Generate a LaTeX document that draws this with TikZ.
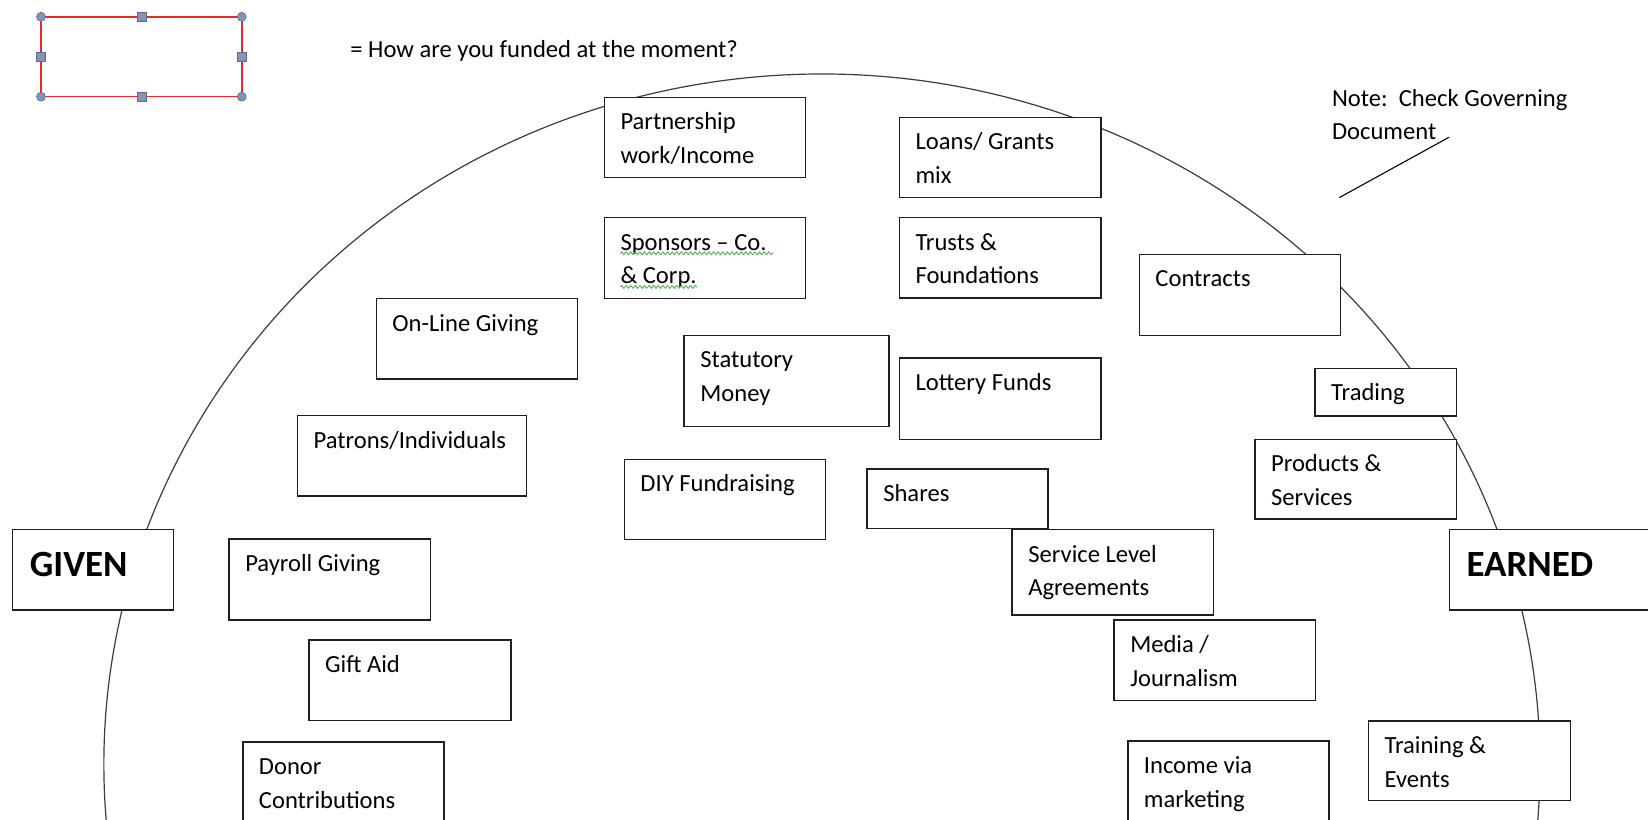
\documentclass[tikz,border=0pt]{standalone}
\usepackage{fontspec}
\setmainfont{Carlito}
\usetikzlibrary{decorations.pathmorphing}
\definecolor{selred}{RGB}{232,40,44}
\definecolor{handlefill}{RGB}{128,150,182}
\definecolor{handledraw}{RGB}{88,108,140}
\definecolor{squiggle}{RGB}{80,180,80}
\definecolor{boxline}{RGB}{30,30,30}
\definecolor{arcline}{RGB}{60,60,60}
\newcommand\pxu{0.52551pt}
\newcommand\tl[1]{\begin{tabular}[t]{@{}l@{}}#1\end{tabular}}
\newcommand\mybox[6]{%
  \node[box, minimum width={(#4-#2)*\pxu}, minimum height={(#5-#3)*\pxu}] (#1) at (#2,#3) {};
  \node[lbl] (#1t) at ([xshift=15*\pxu, yshift=-31*\pxu]#1.north west) {\tl{#6}};
}
\begin{document}
\begin{tikzpicture}[x=0.52551pt, y=-0.52551pt,
  box/.style={draw=boxline, line width=0.75pt, fill=white, anchor=north west, inner sep=0pt, outer sep=0pt},
  lbl/.style={anchor=base west, inner sep=0pt, font=\fontsize{12.3}{16.8}\selectfont},
  bigl/.style={anchor=base west, inner sep=0pt, font=\fontsize{18.5}{22}\selectfont\bfseries},
  roundhandle/.style={circle, fill=handlefill, draw=handledraw, line width=0.3pt, minimum size=8.5*\pxu, inner sep=0pt},
  squarehandle/.style={rectangle, fill=handlefill, draw=handledraw, line width=0.3pt, minimum size=8.5*\pxu, inner sep=0pt},
  wavy/.style={draw=squiggle, line width=0.45pt, decorate, decoration={snake, amplitude=0.7pt, segment length=2.3pt}}]
\useasboundingbox[fill=white] (0,0) rectangle (1568,780.2);
\begin{scope}
\clip (0,0) rectangle (1568,780.2);

% selection-frame legend
\node[draw=selred, line width=0.8pt, anchor=north west, inner sep=0pt, outer sep=0pt,
      minimum width=191*\pxu, minimum height=76*\pxu] (sel) at (39,16) {};
\foreach \a in {north west, north east, south west, south east}
  \node[roundhandle] at (sel.\a) {};
\foreach \a in {north, south, west, east}
  \node[squarehandle] at (sel.\a) {};
\node[lbl] (question) at (333,55) {= How are you funded at the moment?};

% big arc
\draw[arcline, line width=0.6pt] (782.1,727.9) ++(172:683.2 and 657.5)
  arc[start angle=172, end angle=368, x radius=683.2, y radius=657.5];

% note
\node[lbl] (note) at (1267,101) {\tl{Note:\ \ Check Governing\\Document}};
\coordinate (n1) at (1274.3,188);
\coordinate (n2) at (1378.7,130.6);
\draw[black, line width=0.55pt] (n1) -- (n2);

% boxes
\mybox{partner}{575}{92.6}{766.6}{169}{Partnership\\work/Income}
\mybox{loans}{855.7}{111.6}{1047.6}{188}{Loans/ Grants\\mix}
\mybox{sponsors}{575}{207}{766.6}{284}{Sponsors -- Co.\\\& Corp.}
\mybox{trusts}{855.7}{207}{1047.6}{283.6}{Trusts \&\\Foundations}
\mybox{contracts}{1084}{242}{1275.6}{319}{Contracts}
\mybox{online}{358}{284}{549.5}{360.5}{On-Line Giving}
\mybox{statutory}{651}{319}{846}{406}{Statutory\\Money}
\mybox{lottery}{855.7}{340.7}{1047.6}{418}{Lottery Funds}
\mybox{trading}{1251.2}{350.4}{1386}{395.8}{Trading}
\mybox{patrons}{283}{395.5}{500.8}{472}{Patrons/Individuals}
\mybox{diy}{594}{437}{785.5}{513.5}{DIY Fundraising}
\mybox{products}{1194}{418}{1386}{494}{Products \&\\Services}
\mybox{shares}{825}{446}{997}{503}{Shares}
\mybox{payroll}{218}{513}{409.5}{590}{Payroll Giving}
\mybox{sla}{963}{504}{1154.5}{585}{Service Level\\Agreements}
\mybox{media}{1060}{590}{1251.5}{666.5}{Media /\\Journalism}
\mybox{giftaid}{294}{609}{486}{685.5}{Gift Aid}
\mybox{training}{1302}{686}{1494.4}{761.8}{Training \&\\Events}
\mybox{donor}{231}{706}{422.5}{800}{Donor\\Contributions}
\mybox{income}{1073}{705}{1264.5}{800}{Income via\\marketing}

% GIVEN / EARNED
\node[box, minimum width=153*\pxu, minimum height=76.4*\pxu] (given) at (12,504) {};
\node[bigl] (givent) at ([xshift=16*\pxu, yshift=-44.5*\pxu]given.north west) {GIVEN};
\node[box, minimum width=210*\pxu, minimum height=76.4*\pxu] (earned) at (1379,504) {};
\node[bigl] (earnedt) at ([xshift=16*\pxu, yshift=-44.5*\pxu]earned.north west) {EARNED};

% spelling squiggles
\draw[wavy] ([yshift=-3*\pxu]sponsorst.base west) -- ++(146,0);
\draw[wavy] ([yshift=-35*\pxu]sponsorst.base west) -- ++(73,0);
\end{scope}
\end{tikzpicture}
\end{document}
